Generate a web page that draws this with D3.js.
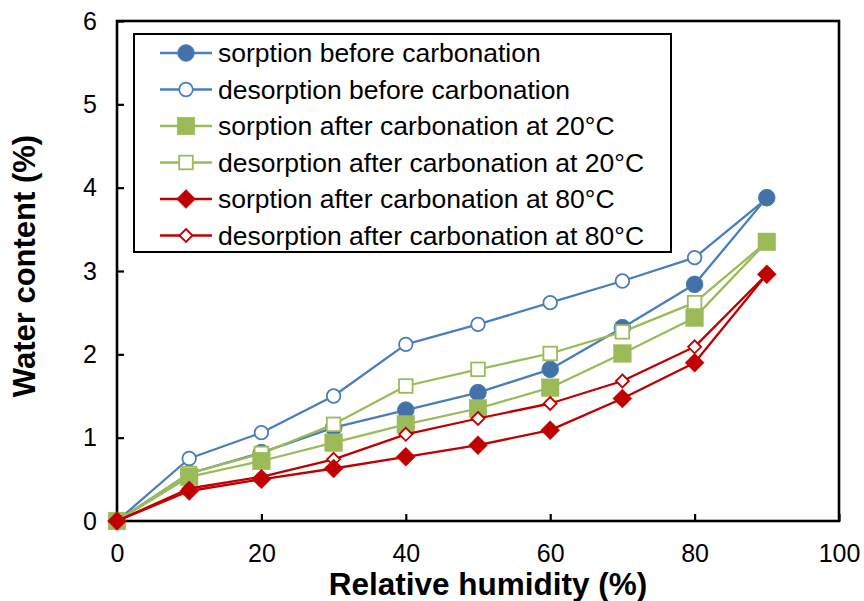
<!DOCTYPE html>
<html>
<head>
<meta charset="utf-8">
<script src="https://cdn.jsdelivr.net/npm/d3@7"></script>
<style>
  body { margin: 0; background: #fff; }
  text { font-family: "Liberation Sans", Arial, sans-serif; fill: #000; }
</style>
</head>
<body>
<svg id="chart" width="864" height="601"></svg>
<script>
// relative humidity steps (%)
const humidity = [0, 10, 20, 30, 40, 50, 60, 70, 80, 90];

// water content (%) at each humidity step
const sorptionBefore   = [0, 0.57, 0.82, 1.12, 1.33, 1.54, 1.82, 2.32, 2.84, 3.88];
const desorptionBefore = [0, 0.75, 1.06, 1.50, 2.12, 2.36, 2.62, 2.88, 3.16, 3.87];
const sorption20       = [0, 0.53, 0.72, 0.94, 1.16, 1.35, 1.60, 2.01, 2.44, 3.35];
const desorption20     = [0, 0.57, 0.81, 1.16, 1.62, 1.82, 2.01, 2.27, 2.62, 3.35];
const sorption80       = [0, 0.36, 0.50, 0.63, 0.77, 0.91, 1.09, 1.47, 1.90, 2.96];
const desorption80     = [0, 0.39, 0.53, 0.74, 1.04, 1.23, 1.41, 1.68, 2.09, 2.96];

const seriesNames = [
    "sorption before carbonation",
    "desorption before carbonation",
    "sorption after carbonation at 20°C",
    "desorption after carbonation at 20°C",
    "sorption after carbonation at 80°C",
    "desorption after carbonation at 80°C"
];

const xTicks = [0, 20, 40, 60, 80, 100];
const yTicks = [0, 1, 2, 3, 4, 5, 6];

// line colour, marker shape, filled or open
const series = [
    {name: seriesNames[0], values: sorptionBefore,   color: "#4A7EBB", fill: "#4471A7", shape: "circle",  solid: true},
    {name: seriesNames[1], values: desorptionBefore, color: "#4A7EBB", fill: "#fff",    shape: "circle",  solid: false},
    {name: seriesNames[2], values: sorption20,       color: "#9BBB59", fill: "#9BBB59", shape: "square",  solid: true},
    {name: seriesNames[3], values: desorption20,     color: "#9BBB59", fill: "#fff",    shape: "square",  solid: false},
    {name: seriesNames[4], values: sorption80,       color: "#C00000", fill: "#C00000", shape: "diamond", solid: true},
    {name: seriesNames[5], values: desorption80,     color: "#C00000", fill: "#fff",    shape: "diamond", solid: false}
];

// desorption curves go under their sorption curves (they share the 90% point)
const drawOrder = [1, 0, 3, 2, 5, 4];

const svg = d3.select("#chart");
const plot = {left: 117, right: 839, top: 21, bottom: 521};

const x = d3.scaleLinear().domain([0, 100]).range([plot.left, plot.right]);
const y = d3.scaleLinear().domain([0, 6]).range([plot.bottom, plot.top]);

// axes with inward ticks
const yAxis = svg.append("g")
    .attr("transform", `translate(${plot.left},0)`)
    .call(d3.axisLeft(y).tickValues(yTicks).tickSize(-7).tickPadding(20).tickFormat(d3.format("d")));
const xAxis = svg.append("g")
    .attr("transform", `translate(0,${plot.bottom})`)
    .call(d3.axisBottom(x).tickValues(xTicks).tickSize(-7).tickPadding(23).tickFormat(d3.format("d")));

[xAxis, yAxis].forEach(g => {
    g.select(".domain").remove();
    g.selectAll(".tick line").attr("stroke", "#000").attr("stroke-width", 2.2);
    g.selectAll(".tick text").style("font-size", "25px").attr("fill", "#000");
});

// plot frame
svg.append("rect")
    .attr("x", plot.left).attr("y", plot.top)
    .attr("width", plot.right - plot.left).attr("height", plot.bottom - plot.top)
    .attr("fill", "none").attr("stroke", "#000").attr("stroke-width", 2.6);

// axis titles
svg.append("text")
    .attr("x", 488).attr("y", 595)
    .attr("text-anchor", "middle")
    .style("font-size", "31.5px").style("font-weight", "bold")
    .text("Relative humidity (%)");
svg.append("text")
    .attr("transform", "translate(35,266) rotate(-90)")
    .attr("text-anchor", "middle")
    .style("font-size", "31px").style("font-weight", "bold")
    .text("Water content (%)");

function marker(g, s, cx, cy) {
    const big = s.solid;
    if (s.shape === "circle") {
        g.append("circle").attr("cx", cx).attr("cy", cy).attr("r", big ? 8.3 : 6.8)
            .attr("fill", s.fill).attr("stroke", s.color).attr("stroke-width", big ? 1 : 1.8);
    } else if (s.shape === "square") {
        const h = big ? 8.8 : 6.8;
        g.append("rect").attr("x", cx - h).attr("y", cy - h).attr("width", 2 * h).attr("height", 2 * h)
            .attr("fill", s.fill).attr("stroke", s.color).attr("stroke-width", big ? 0.5 : 1.8);
    } else {
        const h = big ? 9.5 : 6.5;
        g.append("path")
            .attr("d", `M${cx},${cy - h}L${cx + h},${cy}L${cx},${cy + h}L${cx - h},${cy}Z`)
            .attr("fill", s.fill).attr("stroke", s.color).attr("stroke-width", big ? 0.5 : 1.8);
    }
}

const line = d3.line().x(d => x(d[0])).y(d => y(d[1]));

drawOrder.forEach(k => {
    const s = series[k];
    const pts = humidity.map((h, i) => [h, s.values[i]]);
    const g = svg.append("g");
    g.append("path")
        .attr("d", line(pts))
        .attr("fill", "none").attr("stroke", s.color).attr("stroke-width", 2.3)
        .attr("stroke-linejoin", "round");
    pts.forEach(p => marker(g, s, x(p[0]), y(p[1])));
});

// legend
const legend = svg.append("g");
legend.append("rect")
    .attr("x", 134).attr("y", 34).attr("width", 537).attr("height", 218)
    .attr("fill", "#fff").attr("stroke", "#000").attr("stroke-width", 2);
series.forEach((s, i) => {
    const ry = 53 + i * 36.5;
    legend.append("line")
        .attr("x1", 160).attr("x2", 212).attr("y1", ry).attr("y2", ry)
        .attr("stroke", s.color).attr("stroke-width", 2.3);
    marker(legend, s, 186, ry);
    legend.append("text")
        .attr("x", 218).attr("y", ry).attr("dy", "0.35em")
        .style("font-size", "26.5px")
        .text(s.name);
});
</script>
</body>
</html>
